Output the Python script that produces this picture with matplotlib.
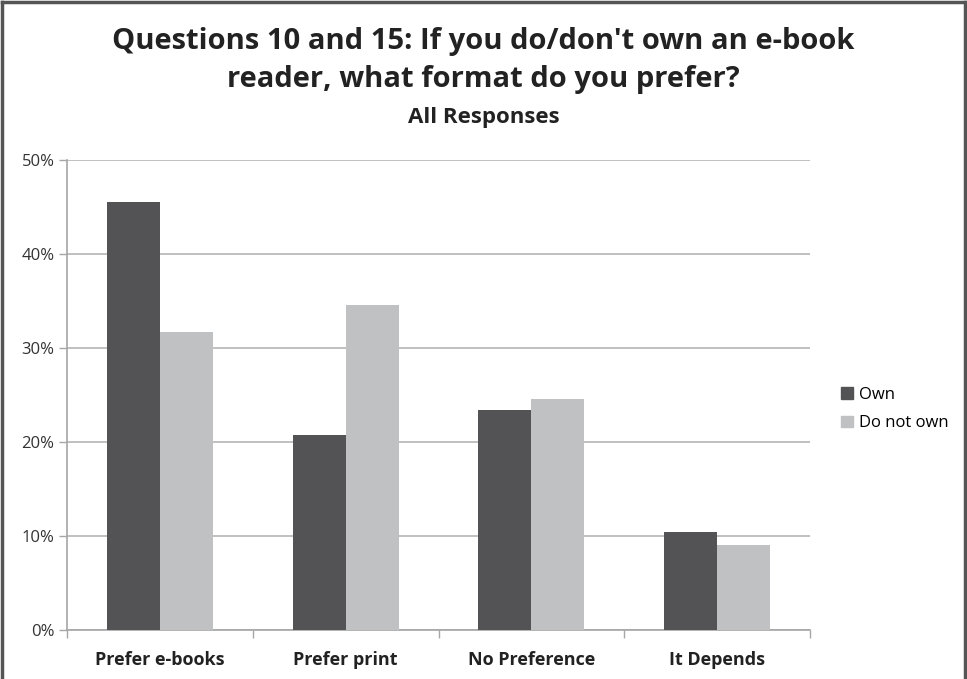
import matplotlib
matplotlib.use("Agg")
import matplotlib.pyplot as plt
import numpy as np
from matplotlib.lines import Line2D
from matplotlib.patches import Patch

categories = ["Prefer e-books", "Prefer print", "No Preference", "It Depends"]
own = [45.5, 20.7, 23.4, 10.4]
do_not_own = [31.7, 34.6, 24.6, 9.0]
series_names = ["Own", "Do not own"]
yticks = [0, 10, 20, 30, 40, 50]
ytick_labels = ["0%", "10%", "20%", "30%", "40%", "50%"]

plt.rcParams['font.family'] = ['Open Sans', 'DejaVu Sans']

fig = plt.figure(figsize=(9.67, 6.79), dpi=100)
ax = fig.add_axes([67/967, 1-630/679, (810-67)/967, (630-160)/679])

x = np.arange(len(categories))
w = 1/3.5
ax.bar(x - w/2, own, width=w, color="#535355", label=series_names[0], zorder=3)
ax.bar(x + w/2, do_not_own, width=w, color="#c0c1c3", label=series_names[1], zorder=3)

ax.set_xlim(-0.5, 3.5)
ax.set_ylim(0, 50)
ax.set_yticks(yticks)
ax.set_yticklabels(ytick_labels, fontsize=12, color="#333333")
ax.set_xticks(x)
ax.set_xticklabels(categories, fontsize=13, fontweight="bold", color="#222222")
ax.set_xticks(np.arange(-0.5, 4.0, 1.0), minor=True)
ax.tick_params(axis="x", which="major", length=0, pad=15)
ax.tick_params(axis="x", which="minor", length=6, color="#a6a6a6", width=1)
ax.tick_params(axis="y", length=6, color="#a6a6a6", width=1, pad=3)
ax.grid(axis="y", color="#b5b5b5", linewidth=1.2, zorder=0)
for s in ["top", "right"]:
    ax.spines[s].set_visible(False)
for s in ["left", "bottom"]:
    ax.spines[s].set_color("#a6a6a6")
    ax.spines[s].set_linewidth(1.2)

fig.text(0.5, 1-42/679, "Questions 10 and 15: If you do/don't own an e-book", ha="center", va="center",
         fontsize=21, fontweight="bold", color="#222222")
fig.text(0.5, 1-80/679, "reader, what format do you prefer?", ha="center", va="center",
         fontsize=21, fontweight="bold", color="#222222")
fig.text(0.5, 1-117/679, "All Responses", ha="center", va="center",
         fontsize=16, fontweight="bold", color="#222222")

handles = [Patch(color="#535355"), Patch(color="#c0c1c3")]
fig.legend(handles, series_names, loc="center left", bbox_to_anchor=(826/967, 1-409/679),
           frameon=False, fontsize=12, handlelength=0.7, handleheight=0.7,
           handletextpad=0.4, labelspacing=0.75)

# outer border (top, left, right)
for xs, ys in [([2/967, 2/967], [0, 1-2/679]), ([2/967, 965/967], [1-2/679, 1-2/679]),
               ([965/967, 965/967], [0, 1-2/679])]:
    fig.add_artist(Line2D(xs, ys, color="#555555", linewidth=2.5))

fig.savefig("out.png", dpi=100)
